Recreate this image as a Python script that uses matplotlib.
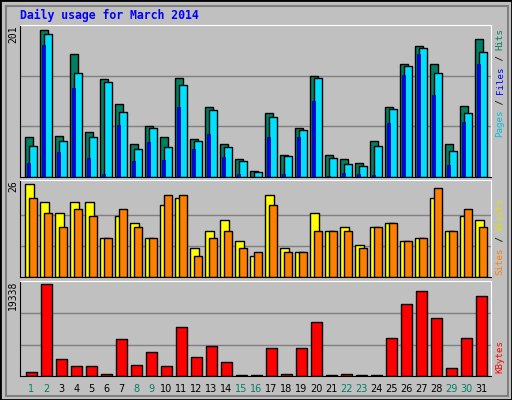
import matplotlib
matplotlib.use("Agg")
import matplotlib.pyplot as plt
from matplotlib.patches import Rectangle

# ----------------------------
# Data
# ----------------------------
days = list(range(1, 32))
weekend = [1, 2, 8, 9, 15, 16, 22, 23, 29, 30]
hits = [53, 195, 54, 163, 60, 130, 96, 44, 68, 53, 131, 50, 92, 44, 24, 8,
        84, 29, 65, 133, 29, 24, 19, 48, 92, 149, 173, 149, 44, 94, 183]
files = [41, 189, 48, 138, 53, 125, 86, 37, 65, 40, 122, 48, 88, 40, 21, 7,
         80, 28, 62, 131, 25, 17, 15, 41, 90, 147, 170, 138, 35, 85, 165]
pages = [19, 174, 33, 118, 25, 4, 69, 21, 46, 23, 93, 37, 57, 27, 4, 0,
         53, 4, 53, 101, 1, 5, 4, 3, 72, 135, 162, 109, 16, 73, 150]
sites = [26, 21, 18, 21, 21, 11, 17, 15, 11, 20, 22, 8, 13, 16, 10, 6,
         23, 8, 7, 18, 13, 14, 9, 14, 15, 10, 11, 22, 13, 17, 16]
visits = [22, 18, 14, 19, 17, 11, 19, 14, 11, 23, 23, 6, 11, 13, 8, 7,
          20, 7, 7, 13, 13, 13, 8, 14, 15, 10, 11, 25, 13, 19, 14]
kbytes = [830, 18920, 3530, 2080, 2080, 420, 7690, 2290, 4990, 2080, 9980,
          3950, 6240, 2910, 210, 210, 5820, 420, 5820, 11020, 210, 420, 210,
          210, 7900, 14760, 17460, 11850, 1660, 7900, 16420]
max_hits, max_sites, max_kb = 201, 26, 19338

BG = "#C0C0C0"
W, H = 512, 400

fig = plt.figure(figsize=(5.12, 4.0), dpi=100, facecolor=BG)
# outer border
fig.patches.append(Rectangle((0, 0), 1, 1, transform=fig.transFigure,
                             fill=False, edgecolor="black", linewidth=2))
fig.patches.append(Rectangle((6 / W, 4 / H), 502 / W, 390 / H, transform=fig.transFigure,
                             fill=False, edgecolor="#808080", linewidth=1.5))


def panel(top, bottom, vtop, ymax):
    ax = fig.add_axes([20 / W, 1 - bottom / H, 471 / W, (bottom - top) / H])
    ax.set_facecolor(BG)
    ax.set_xlim(20, 491)
    ax.set_ylim(0, ymax * (bottom - top) / (bottom - vtop))
    for v in (ymax / 3, 2 * ymax / 3):
        ax.axhline(v, color="#808080", linewidth=1, zorder=0)
    ax.spines["left"].set_color("black")
    ax.spines["bottom"].set_color("black")
    ax.spines["top"].set_color("white")
    ax.spines["right"].set_color("white")
    ax.set_xticks([])
    ax.set_yticks([])
    fig.text(13 / W, 1 - top / H, str(ymax), rotation=90, ha="center", va="top",
             fontsize=7, family="DejaVu Sans Mono")
    return ax


x0 = [25 + 15 * (d - 1) for d in days]

ax1 = panel(25, 177, 25, max_hits)
ax1.bar(x0, hits, width=7.7, align="edge", color="#008060", edgecolor="black", linewidth=1)
ax1.bar([x + 4.3 for x in x0], files, width=7.4, align="edge", color="#00E0FF",
        edgecolor="black", linewidth=1)
ax1.bar([x + 2 for x in x0], pages, width=2.7, align="edge", color="#0000FF",
        edgecolor="#000080", linewidth=0.5)

ax2 = panel(180, 277, 184, max_sites)
ax2.bar([x + 0.3 for x in x0], sites, width=8.4, align="edge", color="#FFFF00",
        edgecolor="black", linewidth=1)
ax2.bar([x + 4.3 for x in x0], visits, width=7.4, align="edge", color="#FF8000",
        edgecolor="black", linewidth=1)

ax3 = panel(281, 376, 282, max_kb)
ax3.bar([x + 1 for x in x0], kbytes, width=10.7, align="edge", color="#FF0000",
        edgecolor="black", linewidth=1)

# day labels
for d, x in zip(days, x0):
    fig.text((x + 6.5) / W, 1 - 389 / H, str(d), ha="center", va="center", fontsize=7,
             color="#008060" if d in weekend else "black")

# title
fig.text(20 / W, 1 - 15 / H, "Daily usage for March 2014", ha="left", va="center",
         fontsize=8.3, fontweight="bold", color="#0000FF", family="DejaVu Sans Mono")


def side_label(top, pieces):
    y = top
    for txt, col in pieces:
        fig.text(500 / W, 1 - y / H, txt, rotation=90, ha="center", va="top",
                 fontsize=6.6, color=col, family="DejaVu Sans Mono")
        y += 5.45 * len(txt)


side_label(28, [("Hits", "#008060"), (" / ", "black"), ("Files", "#0000FF"),
                (" / ", "black"), ("Pages", "#00C0E0")])
side_label(198, [("Visits", "#E0E000"), (" / ", "black"), ("Sites", "#FF8000")])
side_label(340, [("KBytes", "#FF0000")])

fig.savefig("out.png", dpi=100, facecolor=BG)
